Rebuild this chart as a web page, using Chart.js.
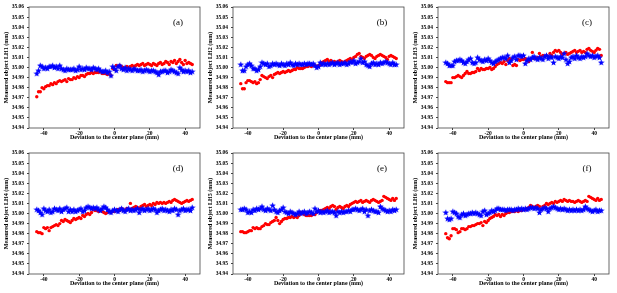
<!DOCTYPE html>
<html>
<head>
<meta charset="utf-8">
<script src="https://cdn.jsdelivr.net/npm/chart.js@4.4.1/dist/chart.umd.min.js"></script>
<style>
  html, body { margin: 0; padding: 0; background: #fff; }
  #wrap { position: relative; width: 617px; height: 293px; overflow: hidden; }
  #wrap canvas { position: absolute; }
</style>
</head>
<body>
<div id="wrap"></div>
<script>
// deviation to the center plane (mm), shared by all panels
const positions = [-44,-43,-42,-41,-40,-39,-38,-37,-36,-35,-34,-33,-32,-31,-30,-29,-28,-27,-26,-25,
  -24,-23,-22,-21,-20,-19,-18,-17,-16,-15,-14,-13,-12,-11,-10,-9,-8,-7,-6,-5,
  -4,-3,-2,-1,0,1,2,3,4,5,6,7,8,9,10,11,12,13,14,15,16,17,18,19,20,21,22,23,24,25,
  26,27,28,29,30,31,32,33,34,35,36,37,38,39,40,41,42,43,44];

const xTicks = [-40, -20, 0, 20, 40];
const yTicks = [34.94, 34.95, 34.96, 34.97, 34.98, 34.99, 35.00, 35.01, 35.02, 35.03, 35.04, 35.05, 35.06];

// measured LH values (mm), red circles / blue stars
const lh1Red = [34.971,34.976,34.976,34.980,34.979,34.981,34.982,34.982,34.984,34.983,
  34.985,34.984,34.986,34.987,34.986,34.987,34.988,34.986,34.989,34.988,
  34.988,34.990,34.989,34.991,34.990,34.992,34.992,34.991,34.993,34.994,
  34.994,34.995,34.994,34.995,34.995,34.995,34.996,34.994,34.994,34.994,
  34.993,34.994,34.992,34.999,34.998,35.002,35.001,35.002,35.001,35.000,
  34.999,35.001,35.000,35.001,35.002,35.001,35.002,35.003,35.002,35.003,
  35.004,35.002,35.003,35.004,35.003,35.002,35.004,35.003,35.002,35.004,
  35.005,35.003,35.004,35.006,35.005,35.003,35.006,35.005,35.007,35.004,
  35.006,35.008,35.005,35.003,35.007,35.004,35.005,35.004,35.003];
const lh1Blue = [34.994,34.997,35.002,35.001,34.999,35.000,34.999,35.001,35.001,35.002,
  35.000,35.001,34.999,35.002,34.999,34.998,34.997,34.999,34.998,34.998,
  34.998,34.999,34.997,34.998,35.001,34.998,34.999,34.998,35.000,34.999,
  34.999,34.998,35.000,34.999,34.998,34.999,34.997,34.996,34.996,34.997,
  34.995,34.996,34.992,35.001,34.999,34.997,35.001,35.002,34.999,34.998,
  35.000,34.997,34.999,34.998,34.997,34.999,34.998,34.997,34.997,34.998,
  34.996,34.997,34.998,34.997,34.996,34.997,34.997,34.996,34.995,34.993,
  34.996,34.996,34.997,34.997,34.995,34.996,34.998,34.997,34.996,34.995,
  34.994,35.000,34.998,34.996,34.997,34.996,34.997,34.995,34.996];

const lh2Red = [34.984,34.979,34.979,34.985,34.987,34.987,34.986,34.985,34.986,34.984,
  34.985,34.988,34.992,34.991,34.990,34.989,34.991,34.992,34.990,34.993,
  34.994,34.995,34.994,34.995,34.996,34.995,34.996,34.997,34.996,34.997,
  34.998,34.998,35.000,34.999,34.999,34.999,35.000,35.001,35.001,35.002,
  35.001,35.002,35.002,35.001,35.002,35.003,35.005,35.006,35.007,35.008,
  35.006,35.007,35.005,35.006,35.005,35.006,35.007,35.006,35.005,35.006,
  35.007,35.008,35.009,35.008,35.010,35.011,35.013,35.014,35.011,35.010,
  35.009,35.011,35.012,35.013,35.012,35.010,35.009,35.011,35.012,35.013,
  35.012,35.011,35.010,35.008,35.011,35.012,35.011,35.010,35.009];
const lh2Blue = [35.003,34.997,34.997,35.001,35.003,35.004,35.002,34.999,34.999,34.997,
  34.998,35.001,35.005,35.004,35.003,35.004,35.001,35.002,35.004,35.003,
  35.004,35.003,35.002,35.004,35.003,35.002,35.004,35.003,35.005,35.003,
  35.002,35.004,35.003,35.004,35.003,35.003,35.004,35.003,35.004,35.004,
  35.003,35.004,35.002,35.000,35.001,35.005,35.003,35.004,35.003,35.004,
  35.003,35.004,35.005,35.003,35.004,35.005,35.003,35.004,35.004,35.005,
  35.003,35.004,35.006,35.005,35.007,35.004,35.005,35.006,35.009,35.005,
  35.006,35.003,35.002,35.001,35.004,35.005,35.003,35.004,35.003,35.005,
  35.004,35.005,35.006,35.005,35.004,35.003,35.005,35.003,35.003];

const lh3Red = [34.986,34.985,34.985,34.985,34.990,34.990,34.991,34.992,34.991,34.990,
  34.992,34.994,34.996,34.994,34.994,34.995,34.995,34.996,34.999,34.997,
  34.999,34.998,34.998,34.999,34.999,35.000,34.998,34.999,35.001,35.003,
  35.004,35.005,35.004,35.006,35.003,35.007,35.009,35.008,35.002,35.003,
  35.002,35.008,35.007,35.008,35.008,35.009,35.007,35.006,35.008,35.015,
  35.009,35.009,35.010,35.014,35.011,35.012,35.011,35.012,35.011,35.014,
  35.012,35.015,35.017,35.016,35.017,35.015,35.013,35.014,35.015,35.013,
  35.014,35.015,35.016,35.017,35.015,35.016,35.017,35.015,35.016,35.015,
  35.018,35.019,35.017,35.016,35.015,35.017,35.019,35.018,35.012];
const lh3Blue = [35.005,35.004,35.002,35.002,35.002,35.006,35.007,35.007,35.008,35.007,
  35.005,35.004,35.006,35.008,35.009,35.005,35.004,35.005,35.010,35.008,
  35.007,35.006,35.008,35.007,35.009,35.007,35.005,35.004,35.006,35.007,
  35.008,35.009,35.010,35.010,35.009,35.012,35.005,35.007,35.010,35.011,
  35.008,35.012,35.012,35.011,35.012,35.004,35.007,35.009,35.008,35.010,
  35.011,35.009,35.008,35.010,35.009,35.008,35.011,35.012,35.009,35.011,
  35.010,35.005,35.011,35.010,35.009,35.011,35.010,35.014,35.008,35.004,
  35.006,35.010,35.011,35.009,35.012,35.010,35.009,35.011,35.010,35.011,
  35.014,35.012,35.011,35.012,35.010,35.011,35.012,35.010,35.005];

const lh4Red = [34.982,34.981,34.981,34.980,34.986,34.985,34.986,34.983,34.986,34.987,
  34.988,34.989,34.988,34.990,34.993,34.992,34.994,34.993,34.992,34.991,
  34.993,34.995,34.994,34.995,34.996,34.995,34.998,34.997,34.999,35.000,
  34.999,35.001,35.004,35.003,35.003,35.002,35.003,35.002,35.001,35.000,
  35.001,35.002,35.001,35.002,35.002,35.003,35.004,35.003,35.005,35.004,
  35.003,35.005,35.004,35.010,35.005,35.006,35.007,35.006,35.005,35.007,
  35.008,35.009,35.007,35.008,35.009,35.008,35.010,35.009,35.011,35.010,
  35.011,35.010,35.011,35.010,35.011,35.012,35.011,35.013,35.014,35.013,
  35.012,35.011,35.010,35.011,35.012,35.013,35.012,35.013,35.014];
const lh4Blue = [35.004,35.003,35.001,34.999,35.005,35.003,35.002,35.004,35.001,35.002,
  35.005,35.004,35.003,35.005,35.002,35.004,35.005,35.006,35.002,35.004,
  35.002,35.004,35.002,35.003,35.004,35.005,35.002,35.003,35.006,35.007,
  35.006,35.005,35.006,35.005,35.006,35.004,35.003,35.005,35.007,35.006,
  35.004,35.002,35.001,35.003,35.004,35.003,35.002,35.004,35.005,35.003,
  35.002,35.004,35.005,35.003,35.004,35.003,35.004,35.005,35.001,35.004,
  35.005,35.003,35.004,35.005,35.003,35.004,35.005,35.004,35.001,35.003,
  35.004,35.005,35.003,35.004,35.003,35.002,35.004,35.003,35.005,35.004,
  34.999,35.003,35.004,35.005,35.003,35.004,35.004,35.003,35.006];

const lh5Red = [34.982,34.982,34.981,34.981,34.982,34.983,34.983,34.986,34.985,34.986,
  34.985,34.985,34.987,34.988,34.990,34.989,34.989,34.991,34.992,34.993,
  34.996,34.993,34.990,34.992,34.994,34.995,34.995,34.996,34.996,34.997,
  34.996,34.997,34.996,34.998,35.001,35.000,34.999,34.998,34.998,34.998,
  34.998,34.999,34.999,35.001,35.002,35.003,35.003,35.004,35.005,35.006,
  35.005,35.007,35.008,35.007,35.004,35.006,35.007,35.006,35.005,35.007,
  35.008,35.007,35.009,35.010,35.011,35.012,35.011,35.012,35.013,35.011,
  35.012,35.013,35.012,35.011,35.013,35.014,35.013,35.012,35.011,35.012,
  35.013,35.017,35.016,35.015,35.014,35.013,35.015,35.013,35.015];
const lh5Blue = [35.004,35.004,35.005,35.004,35.001,35.002,35.001,35.004,35.003,35.005,
  35.004,35.005,35.007,35.004,35.003,35.005,35.004,35.003,35.008,35.004,
  35.002,35.001,35.003,35.004,35.006,35.002,35.001,35.000,35.002,35.001,
  35.000,34.999,35.000,35.002,35.000,35.001,35.002,35.000,35.001,35.002,
  35.001,35.000,35.005,35.002,35.003,35.001,35.002,35.001,35.002,35.003,
  35.001,35.002,35.002,35.001,34.998,35.002,35.001,35.002,35.001,35.002,
  35.002,35.003,35.002,35.004,35.004,35.005,35.004,35.003,35.004,35.005,
  35.002,35.004,34.998,35.003,35.004,35.003,35.002,35.002,35.001,35.007,
  35.005,35.004,35.003,35.002,35.003,35.002,35.004,35.003,35.004];

const lh6Red = [34.980,34.976,34.975,34.978,34.985,34.985,34.984,34.981,34.982,34.985,
  34.985,34.984,34.985,34.987,34.987,34.988,34.988,34.989,34.990,34.990,
  34.991,34.988,34.992,34.991,34.993,34.995,34.996,34.997,34.999,34.998,
  34.999,34.997,34.999,34.998,35.000,35.001,35.001,35.002,35.002,35.002,
  35.003,35.002,35.003,35.003,35.004,35.004,35.005,35.006,35.008,35.007,
  35.006,35.007,35.008,35.007,35.004,35.007,35.008,35.010,35.009,35.010,
  35.011,35.010,35.012,35.011,35.012,35.013,35.012,35.014,35.013,35.012,
  35.013,35.012,35.012,35.011,35.012,35.013,35.012,35.011,35.012,35.013,
  35.012,35.017,35.016,35.015,35.014,35.013,35.015,35.013,35.014];
const lh6Blue = [35.001,34.995,34.994,34.995,35.002,35.001,35.000,34.997,34.996,34.999,
  35.000,34.998,34.999,35.000,35.000,35.001,35.000,35.001,35.000,34.999,
  34.998,35.002,35.003,34.999,35.000,35.001,35.003,35.002,35.003,35.005,
  35.005,35.004,35.004,35.004,35.003,35.004,35.004,35.004,35.003,35.004,
  35.004,35.005,35.004,35.005,35.004,35.005,35.004,35.005,35.006,35.006,
  35.005,35.006,35.005,35.001,35.004,35.005,35.006,35.005,35.002,35.005,
  35.006,35.007,35.006,35.005,35.004,35.005,35.004,35.005,35.004,35.003,
  35.004,35.003,35.004,35.003,35.004,35.003,35.004,35.003,35.004,35.007,
  35.005,35.004,35.003,35.002,35.003,35.004,35.002,35.003,35.003];

const panels = [
  { tag: '(a)', yTitle: 'Measured object LH1 (mm)', red: lh1Red, blue: lh1Blue, left: 0,   top: 0 },
  { tag: '(b)', yTitle: 'Measured object LH2 (mm)', red: lh2Red, blue: lh2Blue, left: 204, top: 0 },
  { tag: '(c)', yTitle: 'Measured object LH3 (mm)', red: lh3Red, blue: lh3Blue, left: 409, top: 0 },
  { tag: '(d)', yTitle: 'Measured object LH4 (mm)', red: lh4Red, blue: lh4Blue, left: 0,   top: 146 },
  { tag: '(e)', yTitle: 'Measured object LH5 (mm)', red: lh5Red, blue: lh5Blue, left: 204, top: 146 },
  { tag: '(f)', yTitle: 'Measured object LH6 (mm)', red: lh6Red, blue: lh6Blue, left: 409, top: 146 }
];

const serif = "'Times New Roman', 'Liberation Serif', serif";

// filled five-point star like matplotlib's '*' marker
function makeStar(color) {
  const c = document.createElement('canvas');
  c.width = 7; c.height = 7;
  const g = c.getContext('2d');
  g.fillStyle = color;
  g.beginPath();
  for (let i = 0; i < 10; i++) {
    const r = i % 2 === 0 ? 3.4 : 1.45;
    const a = -Math.PI / 2 + i * Math.PI / 5;
    const px = 3.5 + r * Math.cos(a), py = 3.7 + r * Math.sin(a);
    if (i === 0) g.moveTo(px, py); else g.lineTo(px, py);
  }
  g.closePath();
  g.fill();
  return c;
}
const blueStar = makeStar('#0000ff');

const frame = {
  id: 'frame',
  afterDraw(chart, args, opts) {
    const { ctx, chartArea: a } = chart;
    ctx.save();
    ctx.strokeStyle = '#444';
    ctx.lineWidth = 0.8;
    ctx.strokeRect(a.left, a.top, a.right - a.left, a.bottom - a.top);
    ctx.fillStyle = '#000';
    ctx.font = '9px ' + serif;
    ctx.textAlign = 'center';
    ctx.textBaseline = 'middle';
    ctx.fillText(opts.tag, a.left + 149, a.top + 16);
    ctx.restore();
  }
};

const wrap = document.getElementById('wrap');

panels.forEach(p => {
  const cv = document.createElement('canvas');
  cv.width = 205; cv.height = 146;
  cv.style.left = p.left + 'px';
  cv.style.top = p.top + 'px';
  cv.style.width = '205px'; cv.style.height = '146px';
  wrap.appendChild(cv);

  new Chart(cv, {
    type: 'scatter',
    data: {
      datasets: [
        {
          label: 'blue',
          data: positions.map((x, i) => ({ x: x, y: p.blue[i] })),
          pointStyle: blueStar,
          order: 1
        },
        {
          label: 'red',
          data: positions.map((x, i) => ({ x: x, y: p.red[i] })),
          backgroundColor: '#ff0000',
          borderWidth: 0,
          pointRadius: 1.7,
          order: 2
        }
      ]
    },
    options: {
      responsive: false,
      animation: false,
      devicePixelRatio: 1,
      layout: { padding: { top: 7, right: 2, bottom: 0, left: 0 } },
      plugins: { legend: { display: false }, tooltip: { enabled: false }, frame: { tag: p.tag } },
      scales: {
        x: {
          type: 'linear',
          min: -48.4, max: 48.4,
          afterBuildTicks: s => { s.ticks = xTicks.map(v => ({ value: v })); },
          afterFit: s => { s.height = 18; },
          grid: { drawOnChartArea: false, tickLength: 2, color: '#444' },
          border: { display: false },
          ticks: { color: '#000', padding: 0, maxRotation: 0, font: { family: serif, size: 5.5, weight: 'bold' }, callback: v => String(v) },
          title: { display: true, text: 'Deviation to the center plane (mm)', color: '#000', padding: { top: 0, bottom: 5.2 }, font: { family: serif, size: 6, weight: 'bold' } }
        },
        y: {
          min: 34.94, max: 35.06,
          afterBuildTicks: s => { s.ticks = yTicks.map(v => ({ value: v })); },
          afterFit: s => { s.width = 29; },
          grid: { drawOnChartArea: false, tickLength: 2, color: '#444' },
          border: { display: false },
          ticks: { color: '#000', padding: 3, font: { family: serif, size: 5.5, weight: 'bold' }, callback: v => v.toFixed(2) },
          title: { display: true, text: p.yTitle, color: '#000', padding: { top: 3.2, bottom: 0 }, font: { family: serif, size: 6, weight: 'bold' } }
        }
      }
    },
    plugins: [frame]
  });
});
</script>
</body>
</html>
